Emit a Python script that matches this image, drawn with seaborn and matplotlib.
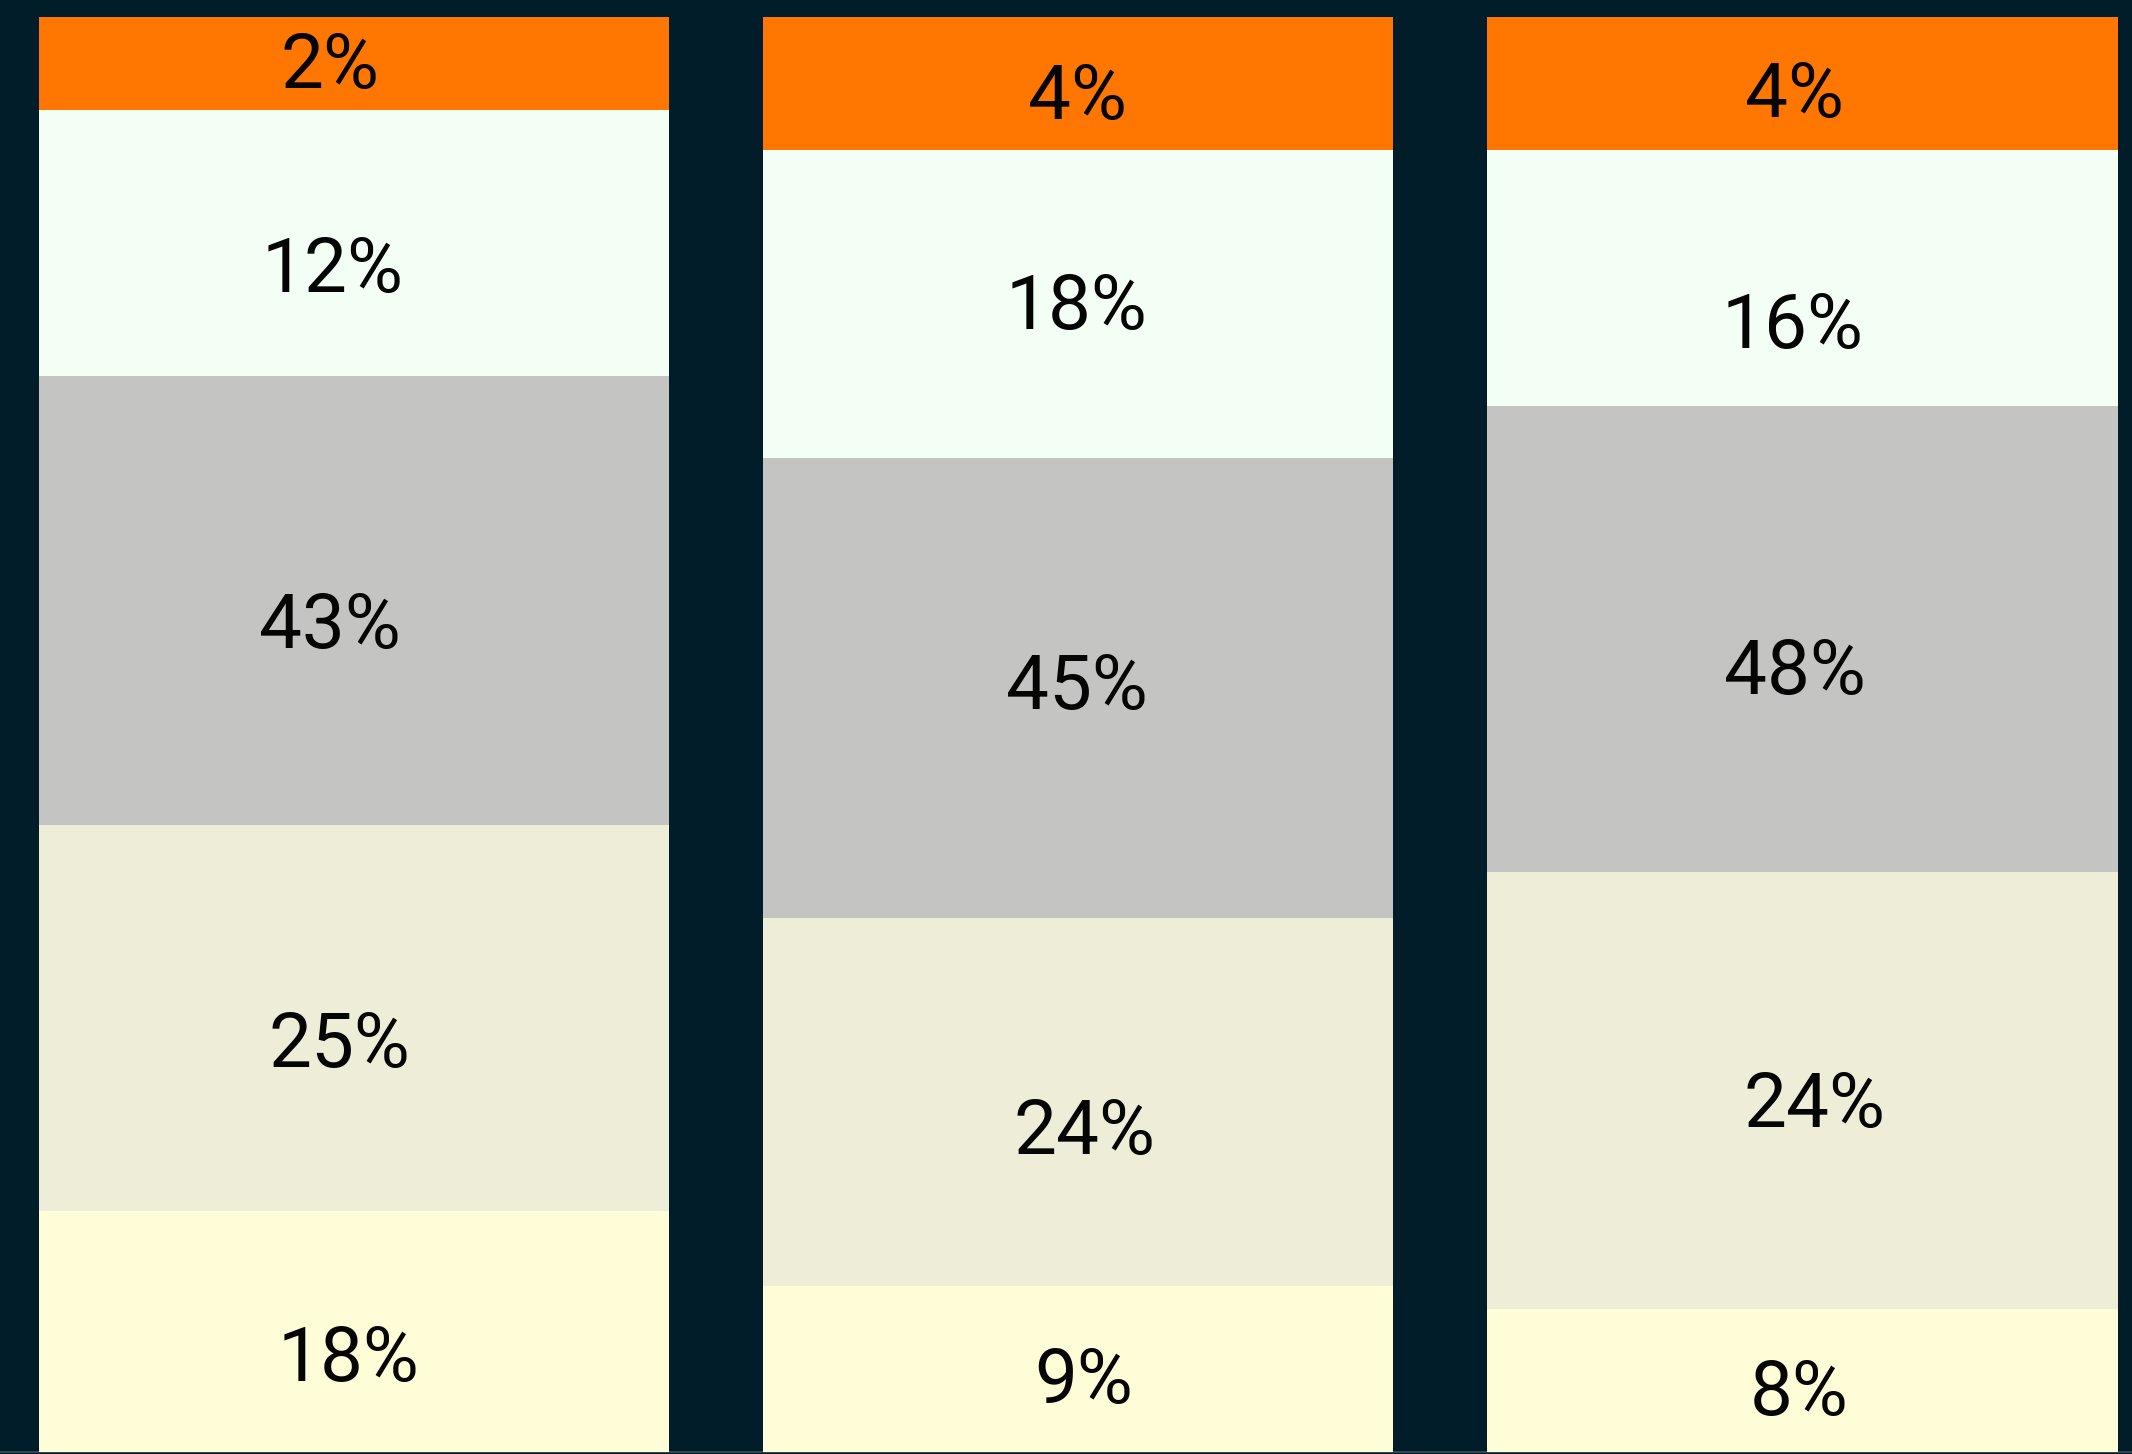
import numpy as np
import pandas as pd
import matplotlib
matplotlib.use("Agg")
import matplotlib.pyplot as plt
import seaborn as sns

# ---- data ----
groups = ["A", "B", "C"]
# segment heights, bottom to top (share of bar height, %)
seg_yellow = [16.8, 11.6, 10.0]
seg_beige = [26.9, 25.6, 30.4]
seg_gray = [31.3, 32.1, 32.5]
seg_mint = [18.5, 21.4, 17.8]
seg_orange = [6.5, 9.3, 9.3]
# printed labels, bottom to top
lab_yellow = ["18%", "9%", "8%"]
lab_beige = ["25%", "24%", "24%"]
lab_gray = ["43%", "45%", "48%"]
lab_mint = ["12%", "18%", "16%"]
lab_orange = ["2%", "4%", "4%"]

# ---- styles ----
BG = "#011d2a"
colors = ["#fffcd8", "#eeedd8", "#c4c4c2", "#f3fef4", "#ff7600"]
# label nudges in pixels (x right, y down), bottom to top per bar
nudge_x = [[-5, -15, -24, -21, -24], [5, 6, -1, -2, -1], [-3, 12, -8, -10, -8]]
nudge_y = [[25, 25, 23, 24, 0], [10, 28, -3, 1, 11], [10, 12, 30, 45, 9]]

segs = [seg_yellow, seg_beige, seg_gray, seg_mint, seg_orange]
labs = [lab_yellow, lab_beige, lab_gray, lab_mint, lab_orange]

sns.set_theme(style="white")
plt.rcParams["font.family"] = ["Roboto", "DejaVu Sans"]

W, H, DPI = 2132, 1454, 100
fig = plt.figure(figsize=(W / DPI, H / DPI), dpi=DPI, facecolor=BG)
ax = fig.add_axes([0, 0, 1, 1])
ax.set_facecolor(BG)

cum = np.cumsum(np.array(segs), axis=0)  # 5 x 3
bar_w = 0.87
# draw cumulative totals from the top down so each layer overlays the previous
for k in range(len(segs) - 1, -1, -1):
    df = pd.DataFrame({"group": groups, "value": cum[k]})
    sns.barplot(data=df, x="group", y="value", color=colors[k], width=bar_w,
                saturation=1, ax=ax, zorder=3, linewidth=0, edgecolor=colors[k])

# axis limits so that bars land at the same pixels as the reference
px_per_x = 724.25
px_per_y = 1435 / 100.0
ax.set_xlim(-354 / px_per_x, 2 + (W - 1802.5) / px_per_x)
ax.set_ylim(-(H - 1452) / px_per_y, 100 + 17 / px_per_y)

for i in range(len(groups)):
    for k in range(len(segs)):
        bottom = cum[k][i] - segs[k][i]
        yc = bottom + segs[k][i] / 2 - (nudge_y[i][k] + 4) / px_per_y
        xc = i + nudge_x[i][k] / px_per_x
        ax.text(xc, yc, labs[k][i], ha="center", va="center", fontsize=55,
                color="#050505", zorder=5)

ax.set_xlabel("")
ax.set_ylabel("")
ax.set_xticks([])
ax.set_yticks([])
for s in ["top", "left", "right"]:
    ax.spines[s].set_visible(False)
ax.spines["bottom"].set_position(("data", 0))
ax.spines["bottom"].set_color("#3c4e5a")
ax.spines["bottom"].set_linewidth(1.2)
ax.spines["bottom"].set_zorder(1)

fig.savefig("out.png", dpi=DPI, facecolor=BG)
